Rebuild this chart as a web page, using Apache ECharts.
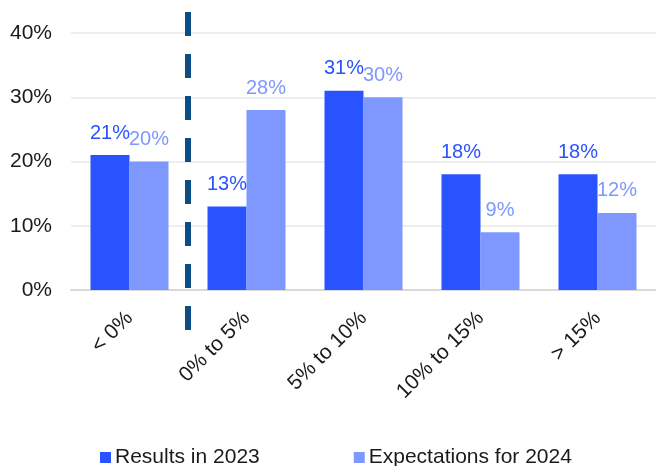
<!DOCTYPE html>
<html>
<head>
<meta charset="utf-8">
<script src="https://cdn.jsdelivr.net/npm/echarts@6/dist/echarts.min.js"></script>
<style>html,body{margin:0;padding:0;background:#fff;}#c{width:656px;height:466px;}</style>
</head>
<body>
<div id="c"></div>
<script>
const categories = ['< 0%', '0% to 5%', '5% to 10%', '10% to 15%', '> 15%'];
const results2023 = [21, 13, 31, 18, 18];
const expectations2024 = [20, 28, 30, 9, 12];
const seriesNames = ['Results in 2023', 'Expectations for 2024'];
const yTicks = [0, 10, 20, 30, 40];

const C1 = '#2953ff', C2 = '#7f98ff';
const FONT = '"Liberation Sans", Arial, sans-serif';
const chart = echarts.init(document.getElementById('c'));
chart.setOption({
  animation: false,
  backgroundColor: '#fff',
  textStyle: { fontFamily: FONT },
  grid: { left: 71, right: 0, top: 33, bottom: 176 },
  legend: {
    bottom: -2, left: 100, padding: 0, itemWidth: 11, itemHeight: 11, itemGap: 94,
    icon: 'rect',
    textStyle: { fontSize: 21, color: '#1a1a1a', fontFamily: FONT, padding: [0, 0, 0, -1] },
    data: seriesNames
  },
  xAxis: {
    type: 'category', data: categories,
    axisLine: { lineStyle: { color: '#d9d9d9', width: 2 } },
    axisTick: { show: false },
    axisLabel: { rotate: 45, fontSize: 21, color: '#1a1a1a', margin: 25, interval: 0, fontFamily: FONT }
  },
  yAxis: {
    type: 'value', min: yTicks[0], max: yTicks[yTicks.length - 1], interval: 10,
    axisLabel: { formatter: '{value}%', fontSize: 21, color: '#1a1a1a', margin: 19, fontFamily: FONT },
    splitLine: { lineStyle: { color: '#eeeeee', width: 2 } },
    axisLine: { show: false }, axisTick: { show: false }
  },
  series: [
    { name: seriesNames[0], type: 'bar', data: results2023, barWidth: 39, barGap: '0%',
      itemStyle: { color: C1 },
      label: { show: true, position: 'top', distance: 12, formatter: '{c}%', color: C1, fontSize: 20, fontFamily: FONT } },
    { name: seriesNames[1], type: 'bar', data: expectations2024, barWidth: 39,
      itemStyle: { color: C2 },
      label: { show: true, position: 'top', distance: 12, formatter: '{c}%', color: C2, fontSize: 20, fontFamily: FONT } }
  ]
});
const x0 = chart.convertToPixel({ xAxisIndex: 0 }, categories[0]);
const x1 = chart.convertToPixel({ xAxisIndex: 0 }, categories[1]);
const yTop = chart.convertToPixel({ yAxisIndex: 0 }, yTicks[yTicks.length - 1]);
const yBot = chart.convertToPixel({ yAxisIndex: 0 }, yTicks[0]);
const xm = Math.round((x0 + x1) / 2);
chart.setOption({
  graphic: [{
    type: 'line', silent: true,
    shape: { x1: xm, y1: yTop - 21, x2: xm, y2: yBot + 40 },
    style: { stroke: '#0c4e84', lineWidth: 6, lineDash: [24, 18] }
  }]
});
</script>
</body>
</html>
